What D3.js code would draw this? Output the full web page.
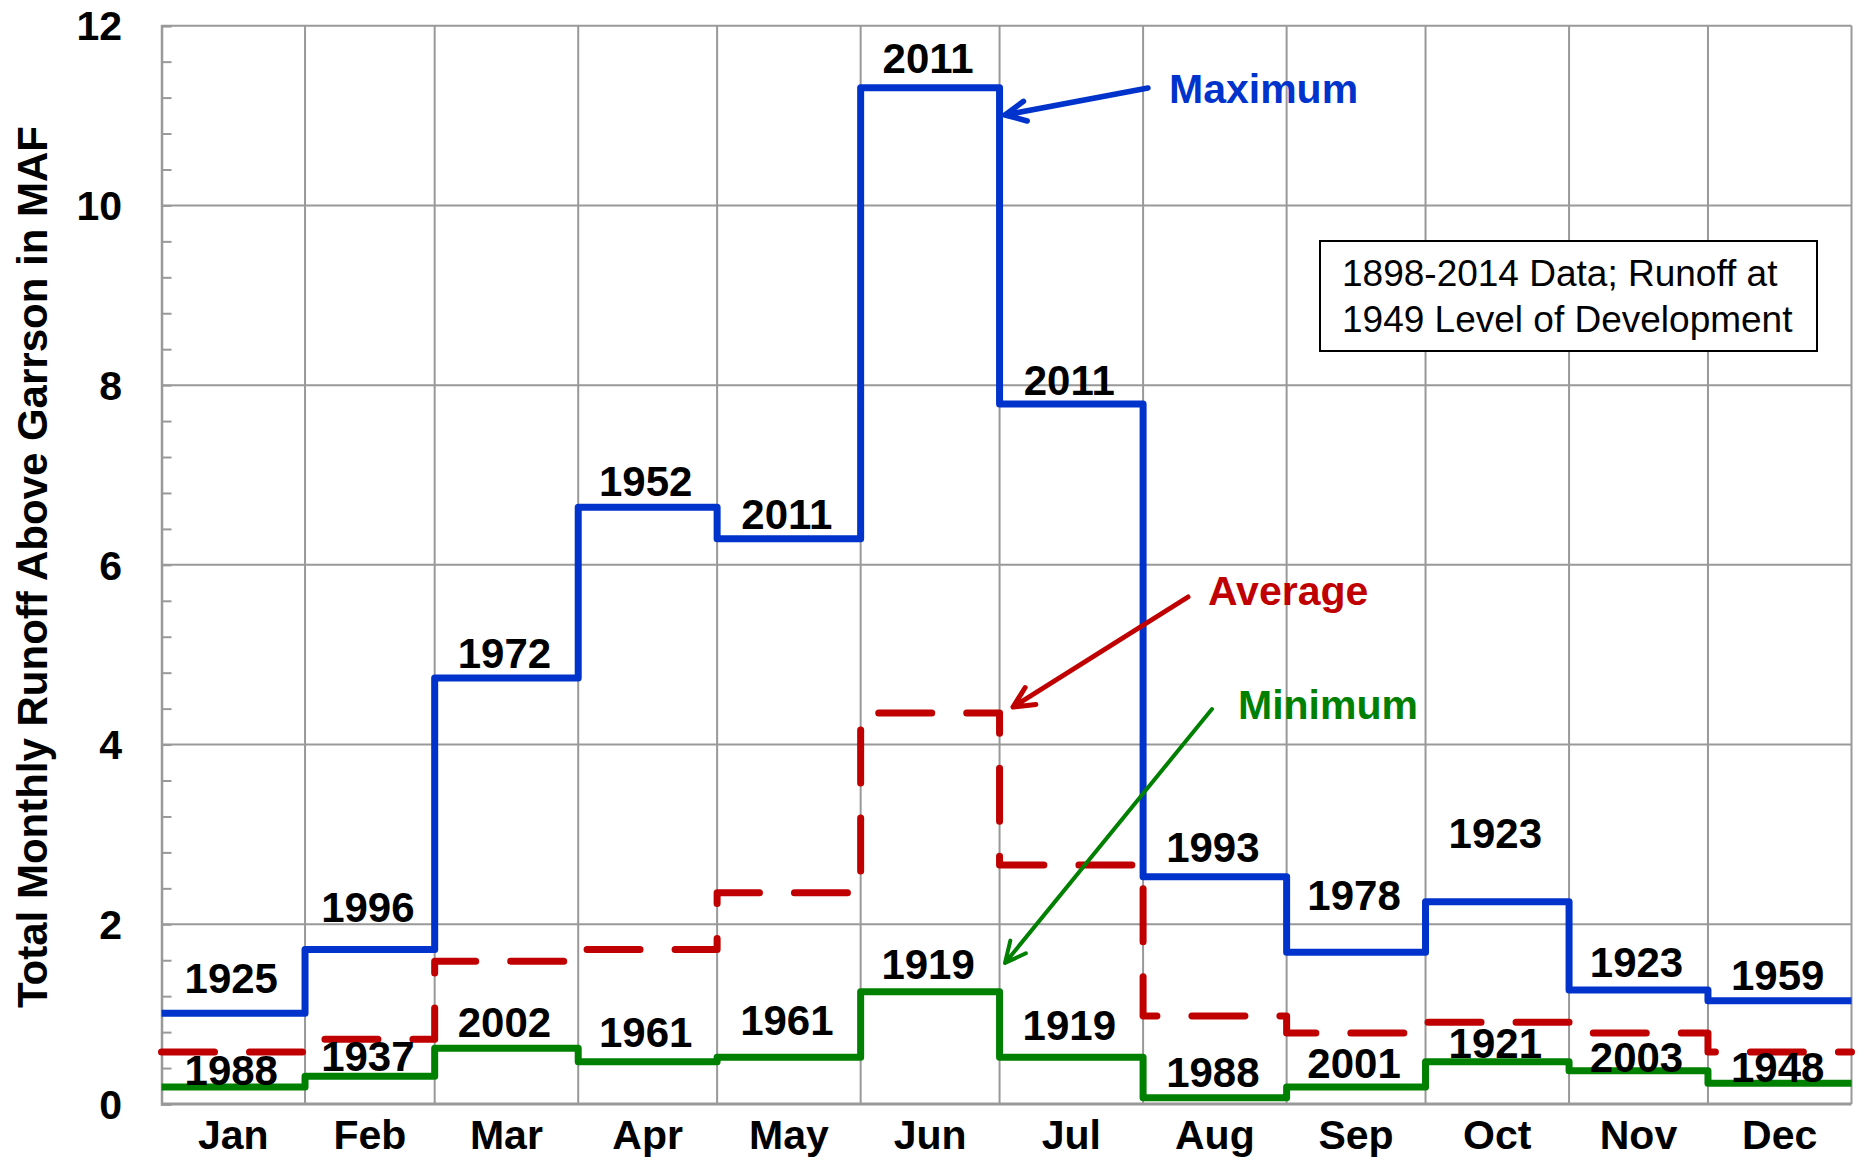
<!DOCTYPE html>
<html>
<head>
<meta charset="utf-8">
<script src="https://cdn.jsdelivr.net/npm/d3@7"></script>
<style>
  body { margin: 0; background: #fff; }
  text { font-family: "Liberation Sans", Arial, sans-serif; }
</style>
</head>
<body>
<div id="chart"></div>
<script>
// Data (MAF per month)
const months = ["Jan", "Feb", "Mar", "Apr", "May", "Jun", "Jul", "Aug", "Sep", "Oct", "Nov", "Dec"];
const maxValues = [1.01, 1.72, 4.74, 6.64, 6.29, 11.31, 7.79, 2.53, 1.69, 2.25, 1.27, 1.15];
const avgValues = [0.58, 0.72, 1.59, 1.72, 2.35, 4.35, 2.66, 0.98, 0.79, 0.91, 0.79, 0.58];
const minValues = [0.19, 0.31, 0.62, 0.47, 0.52, 1.25, 0.52, 0.07, 0.19, 0.47, 0.37, 0.23];
const maxYears = ["1925", "1996", "1972", "1952", "2011", "2011", "2011", "1993", "1978", "1923", "1923", "1959"];
const minYears = ["1988", "1937", "2002", "1961", "1961", "1919", "1919", "1988", "2001", "1921", "2003", "1948"];
const yTicks = [0, 2, 4, 6, 8, 10, 12];
const yTitle = "Total Monthly Runoff Above Garrson in MAF";
const noteLines = ["1898-2014 Data; Runoff at", "1949 Level of Development"];

// Layout
const width = 1864;
const height = 1162;
const plot = { left: 161.5, right: 1851.5, top: 25.7, bottom: 1104 };
// pixel gap between a step and the year written above it
const maxLabelGap = [20, 27, 10, 11, 10, 15, 9, 15, 42, 54, 13, 11];
const minLabelGap = [2, 5, 11, 15, 22, 13, 17, 11, 9, 4, -1, 1];

const blue = "#0033cc";
const red = "#c00000";
const green = "#008000";
const gridColor = "#999999";

const svg = d3
  .select("#chart")
  .append("svg")
  .attr("width", width)
  .attr("height", height);

// x is day-of-year, so each month gets its true width
const yearStart = new Date(Date.UTC(2014, 0, 1));
const yearEnd = new Date(Date.UTC(2015, 0, 1));
const monthStarts = d3.utcMonth.range(yearStart, yearEnd);
const monthEnds = monthStarts.slice(1).concat([yearEnd]);

const xScale = d3.scaleUtc().domain([yearStart, yearEnd]).range([plot.left, plot.right]);
const yScale = d3.scaleLinear().domain([0, 12]).range([plot.bottom, plot.top]);
const mid = (i) => (xScale(monthStarts[i]) + xScale(monthEnds[i])) / 2;

// Horizontal grid
svg
  .append("g")
  .selectAll("line")
  .data(yTicks.slice(1))
  .join("line")
  .attr("x1", plot.left)
  .attr("x2", plot.right)
  .attr("y1", (d) => yScale(d))
  .attr("y2", (d) => yScale(d))
  .attr("stroke", gridColor)
  .attr("stroke-width", 2);

// Vertical grid at month boundaries
svg
  .append("g")
  .selectAll("line")
  .data(monthEnds)
  .join("line")
  .attr("x1", (d) => xScale(d))
  .attr("x2", (d) => xScale(d))
  .attr("y1", plot.top)
  .attr("y2", plot.bottom)
  .attr("stroke", gridColor)
  .attr("stroke-width", 2);

// Y axis with minor ticks pointing inward
const yAxis = d3
  .axisRight(yScale)
  .tickValues(d3.range(0, 12.01, 0.4))
  .tickSize(10)
  .tickFormat("");
const yAxisG = svg.append("g").attr("transform", `translate(${plot.left},0)`).call(yAxis);
yAxisG.select(".domain").attr("stroke", gridColor).attr("stroke-width", 2.5);
yAxisG.selectAll(".tick line").attr("stroke", gridColor).attr("stroke-width", 2);

// Y tick labels
svg
  .append("g")
  .selectAll("text")
  .data(yTicks)
  .join("text")
  .attr("x", 122)
  .attr("y", (d) => yScale(d))
  .attr("dy", "0.36em")
  .attr("text-anchor", "end")
  .attr("font-size", 41)
  .attr("font-weight", "bold")
  .text((d) => d);

// X axis line
svg
  .append("line")
  .attr("x1", plot.left)
  .attr("x2", plot.right)
  .attr("y1", plot.bottom)
  .attr("y2", plot.bottom)
  .attr("stroke", gridColor)
  .attr("stroke-width", 3);

// Month labels
svg
  .append("g")
  .selectAll("text")
  .data(months)
  .join("text")
  .attr("x", (d, i) => mid(i))
  .attr("y", 1149)
  .attr("text-anchor", "middle")
  .attr("font-size", 41)
  .attr("font-weight", "bold")
  .text((d) => d);

// Y title
svg
  .append("text")
  .attr("transform", `translate(47, 567) rotate(-90)`)
  .attr("text-anchor", "middle")
  .attr("font-size", 42)
  .attr("font-weight", "bold")
  .text(yTitle);

// Step lines
const stepLine = d3
  .line()
  .x((d) => xScale(d.date))
  .y((d) => yScale(d.value))
  .curve(d3.curveStepAfter);

const stepPoints = (values) =>
  values
    .map((v, i) => ({ date: monthStarts[i], value: v }))
    .concat([{ date: yearEnd, value: values[values.length - 1] }]);

svg
  .append("path")
  .datum(stepPoints(minValues))
  .attr("d", stepLine)
  .attr("fill", "none")
  .attr("stroke", green)
  .attr("stroke-width", 7)
  .attr("stroke-linejoin", "round");

svg
  .append("path")
  .datum(stepPoints(avgValues))
  .attr("d", stepLine)
  .attr("fill", "none")
  .attr("stroke", red)
  .attr("stroke-width", 7)
  .attr("stroke-linecap", "round")
  .attr("stroke-linejoin", "round")
  .attr("stroke-dasharray", "53,35");

svg
  .append("path")
  .datum(stepPoints(maxValues))
  .attr("d", stepLine)
  .attr("fill", "none")
  .attr("stroke", blue)
  .attr("stroke-width", 7)
  .attr("stroke-linejoin", "round");

// Year labels
svg
  .append("g")
  .selectAll("text")
  .data(maxYears)
  .join("text")
  .attr("x", (d, i) => mid(i) - 2)
  .attr("y", (d, i) => yScale(maxValues[i]) - maxLabelGap[i])
  .attr("text-anchor", "middle")
  .attr("font-size", 42)
  .attr("font-weight", "bold")
  .text((d) => d);

svg
  .append("g")
  .selectAll("text")
  .data(minYears)
  .join("text")
  .attr("x", (d, i) => mid(i) - 2)
  .attr("y", (d, i) => yScale(minValues[i]) - minLabelGap[i])
  .attr("text-anchor", "middle")
  .attr("font-size", 42)
  .attr("font-weight", "bold")
  .text((d) => d);

// Note box
svg
  .append("rect")
  .attr("x", 1320)
  .attr("y", 241)
  .attr("width", 497)
  .attr("height", 110)
  .attr("fill", "#fff")
  .attr("stroke", "#000")
  .attr("stroke-width", 2);

svg
  .append("g")
  .selectAll("text")
  .data(noteLines)
  .join("text")
  .attr("x", 1342)
  .attr("y", (d, i) => 286 + i * 46)
  .attr("font-size", 37)
  .text((d) => d);

// Annotations with open arrowheads
const annotations = [
  { label: "Maximum", color: blue, tx: 1169, ty: 103, from: [1148, 88], to: [1005, 115], w: 5.5 },
  { label: "Average", color: red, tx: 1208, ty: 605, from: [1188, 597], to: [1013, 707], w: 5 },
  { label: "Minimum", color: green, tx: 1238, ty: 719, from: [1212, 709], to: [1005, 963], w: 4 }
];

function arrowPath(a) {
  const [x1, y1] = a.from;
  const [x2, y2] = a.to;
  const ang = Math.atan2(y1 - y2, x1 - x2);
  const len = 23;
  const spread = 0.45;
  const h1 = [x2 + len * Math.cos(ang + spread), y2 + len * Math.sin(ang + spread)];
  const h2 = [x2 + len * Math.cos(ang - spread), y2 + len * Math.sin(ang - spread)];
  const p = d3.path();
  p.moveTo(x1, y1);
  p.lineTo(x2, y2);
  p.moveTo(h1[0], h1[1]);
  p.lineTo(x2, y2);
  p.lineTo(h2[0], h2[1]);
  return p.toString();
}

const ann = svg.append("g").selectAll("g").data(annotations).join("g");
ann
  .append("path")
  .attr("d", arrowPath)
  .attr("fill", "none")
  .attr("stroke", (d) => d.color)
  .attr("stroke-width", (d) => d.w)
  .attr("stroke-linecap", "round")
  .attr("stroke-linejoin", "round");
ann
  .append("text")
  .attr("x", (d) => d.tx)
  .attr("y", (d) => d.ty)
  .attr("font-size", 41)
  .attr("font-weight", "bold")
  .attr("fill", (d) => d.color)
  .text((d) => d.label);
</script>
</body>
</html>
